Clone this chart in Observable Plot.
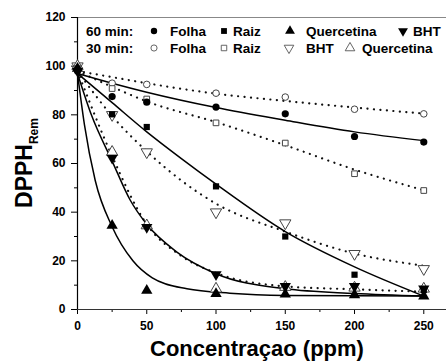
<!DOCTYPE html>
<html><head><meta charset="utf-8">
<script src="https://cdn.jsdelivr.net/npm/d3@7"></script>
<script src="https://cdn.jsdelivr.net/npm/@observablehq/plot@0.6"></script>
<style>
body{margin:0;background:#fff;font-family:"Liberation Sans",Arial,sans-serif;}
#wrap{width:446px;height:362px;overflow:hidden;}
</style></head><body><div id="wrap"></div>
<script>
// measured concentrations (ppm)
const conc = [0, 25, 50, 100, 150, 200, 250];
// DPPH remaining (%) — markers
const folha60 = [98, 87.5, 85.2, 83.2, 80.4, 71.1, 68.8];
const folha30 = [100, 93, 92.5, 88.9, 87.3, 82.3, 80.4];
const raiz60  = [99, 80.2, 75, 50.6, 30, 14.3, 8];
const raiz30  = [100, 90.8, 86.5, 76.7, 68.4, 55.8, 48.9];
const querc60 = [99, 34.5, 7.8, 6.5, 6.3, 6, 5.5];
const bht60   = [98, 62.3, 33.8, 14.4, 9.5, 9.5, 8.5];
const bht30   = [100, 80, 64.7, 40, 35.5, 22.9, 16.7];
const querc30 = [100, 64.7, 34.5, 8.5, 9.2, 8.9, 8.5];

// fitted curves
const folha60CurveX = [0, 25, 50, 100, 150, 200, 250];
const folha60CurveY = [97, 93, 89.3, 83, 77.8, 73, 69.4];
const folha30CurveX = [0, 25, 50, 100, 150, 200, 250];
const folha30CurveY = [98, 95.5, 93, 88.7, 85.7, 83, 80.5];
const raiz60CurveX = [0, 25, 50, 75, 100, 150, 200, 250];
const raiz60CurveY = [97, 85, 73, 62, 51.5, 32, 17.5, 5.5];
const raiz30CurveX = [0, 25, 50, 100, 150, 200, 250];
const raiz30CurveY = [98, 91.5, 85.5, 77, 67.5, 57.5, 49];
const bht30CurveX = [0, 25, 50, 75, 100, 150, 200, 250];
const bht30CurveY = [98, 79.5, 65, 53, 43.5, 32, 23, 18];
const bht60CurveX = [0, 10, 25, 38, 50, 72, 100, 150, 200, 250];
const bht60CurveY = [97, 80, 61, 45, 35, 23.5, 14.7, 8.5, 6.6, 5.5];
const querc30CurveX = [0, 25, 50, 75, 100, 150, 200, 250];
const querc30CurveY = [98, 63, 35, 22, 15, 9.5, 8.3, 7.3];
const querc60CurveX = [0, 5, 12.8, 25, 40, 54, 79, 110, 150, 250];
const querc60CurveY = [97, 76, 53, 34, 20, 13, 8.5, 6.7, 5.8, 5.5];

const yMajor = [0, 20, 40, 60, 80, 100, 120];
const yMinor = [10, 30, 50, 70, 90, 110];
const xMajor = [0, 50, 100, 150, 200, 250];
const xMinor = [25, 75, 125, 175, 225];

const sqrt3 = Math.sqrt(3);
const triangleDown = {
  draw(ctx, size) {
    const y = -Math.sqrt(size / (sqrt3 * 3));
    ctx.moveTo(0, -y * 2);
    ctx.lineTo(-sqrt3 * y, y);
    ctx.lineTo(sqrt3 * y, y);
    ctx.closePath();
  }
};

const pts = (ys) => conc.map((x, i) => ({x, y: ys[i]}));
const crv = (xs, ys) => xs.map((x, i) => ({x, y: ys[i]}));

const solid = {stroke: "#000", strokeWidth: 1.5, curve: "monotone-x"};
const dotted = {stroke: "#111", strokeWidth: 2.2, strokeDasharray: "0.1 6.4", strokeLinecap: "round", curve: "monotone-x"};
const openM = {fill: "#fff", stroke: "#444", strokeWidth: 1};
const fillM = {fill: "#000", stroke: "none"};

const chart = Plot.plot({
  width: 446, height: 362,
  marginLeft: 77, marginRight: 0, marginTop: 17, marginBottom: 53,
  x: {domain: [0, 266.4]},
  y: {domain: [0, 120]},
  style: {fontFamily: '"Liberation Sans", Arial, sans-serif', fontSize: "12px", fontWeight: "bold", color: "#000", background: "#fff"},
  marks: [
    Plot.ruleY([120], {stroke: "#888", strokeWidth: 1.2}),
    Plot.axisY({ticks: yMajor, tickSize: 6, tickPadding: 6, label: null, fontSize: 12, fontWeight: "bold", stroke: "#000"}),
    Plot.axisY({ticks: yMinor, tickSize: 3, text: null, label: null, stroke: "#000"}),
    Plot.axisX({ticks: xMajor, tickSize: 5, tickPadding: 7, label: null, fontSize: 12, fontWeight: "bold", stroke: "#000"}),
    Plot.axisX({ticks: xMinor, tickSize: 3, text: null, label: null, stroke: "#000"}),
    Plot.ruleY([0], {stroke: "#333", strokeWidth: 1.2}),
    Plot.ruleX([0], {stroke: "#000", strokeWidth: 1.2}),
    // curves
    Plot.line(crv(folha30CurveX, folha30CurveY), {x: "x", y: "y", ...dotted}),
    Plot.line(crv(raiz30CurveX, raiz30CurveY), {x: "x", y: "y", ...dotted}),
    Plot.line(crv(bht30CurveX, bht30CurveY), {x: "x", y: "y", ...dotted}),
    Plot.line(crv(querc30CurveX, querc30CurveY), {x: "x", y: "y", ...dotted}),
    Plot.line(crv(folha60CurveX, folha60CurveY), {x: "x", y: "y", ...solid}),
    Plot.line(crv(raiz60CurveX, raiz60CurveY), {x: "x", y: "y", ...solid}),
    Plot.line(crv(bht60CurveX, bht60CurveY), {x: "x", y: "y", ...solid}),
    Plot.line(crv(querc60CurveX, querc60CurveY), {x: "x", y: "y", ...solid}),
    // markers
    Plot.dot(pts(folha30), {x: "x", y: "y", symbol: "circle", r: 3.3, ...openM}),
    Plot.dot(pts(raiz30), {x: "x", y: "y", symbol: "square", r: 3.2, ...openM}),
    Plot.dot(pts(bht30), {x: "x", y: "y", symbol: triangleDown, r: 4.2, ...openM}),
    Plot.dot(pts(querc30), {x: "x", y: "y", symbol: "triangle", r: 4.2, ...openM}),
    Plot.dot(pts(folha60), {x: "x", y: "y", symbol: "circle", r: 3.6, ...fillM}),
    Plot.dot(pts(raiz60), {x: "x", y: "y", symbol: "square", r: 3.5, ...fillM}),
    Plot.dot(pts(querc60), {x: "x", y: "y", symbol: "triangle", r: 4.2, ...fillM}),
    Plot.dot(pts(bht60), {x: "x", y: "y", symbol: triangleDown, r: 4.2, ...fillM})
  ]
});
document.getElementById("wrap").appendChild(chart);

const svg = d3.select(chart);
const ff = '"Liberation Sans", Arial, sans-serif';

// axis titles
svg.append("text")
  .attr("x", 257).attr("y", 356)
  .attr("text-anchor", "middle")
  .attr("font-family", ff).attr("font-weight", "bold").attr("font-size", 22)
  .attr("fill", "#000")
  .text("Concentraçao (ppm)");

const yl = svg.append("text")
  .attr("transform", "translate(32,163) rotate(-90)")
  .attr("text-anchor", "middle")
  .attr("font-family", ff).attr("font-weight", "bold").attr("font-size", 23)
  .attr("fill", "#000");
yl.append("tspan").text("DPPH");
yl.append("tspan").attr("dy", 6).attr("font-size", 12).text("Rem");

// legend
const legendRows = [
  {y: 31, label: "60 min:", items: [
    {sym: d3.symbolCircle, cx: 154, size: 32, open: false, text: "Folha", tx: 170},
    {sym: d3.symbolSquare, cx: 224, size: 34, open: false, text: "Raiz", tx: 233},
    {sym: d3.symbolTriangle, cx: 290, size: 42, open: false, text: "Quercetina", tx: 306},
    {sym: triangleDown, cx: 403, size: 42, open: false, text: "BHT", tx: 413}
  ]},
  {y: 48, label: "30 min:", items: [
    {sym: d3.symbolCircle, cx: 154, size: 30, open: true, text: "Folha", tx: 170},
    {sym: d3.symbolSquare, cx: 224, size: 30, open: true, text: "Raiz", tx: 233},
    {sym: triangleDown, cx: 289, size: 40, open: true, text: "BHT", tx: 306},
    {sym: d3.symbolTriangle, cx: 350, size: 40, open: true, text: "Quercetina", tx: 362}
  ]}
];
const lg = svg.append("g").attr("text-anchor", "start");
for (const row of legendRows) {
  lg.append("text").attr("x", 86).attr("y", row.y).attr("dy", "0.36em")
    .attr("text-anchor", "start")
    .attr("font-family", ff).attr("font-weight", "bold").attr("font-size", 13.5).attr("fill", "#000")
    .text(row.label);
  for (const it of row.items) {
    lg.append("path").attr("d", d3.symbol(it.sym, it.size)())
      .attr("transform", `translate(${it.cx},${row.y})`)
      .attr("fill", it.open ? "#fff" : "#000")
      .attr("stroke", it.open ? "#555" : "none").attr("stroke-width", 0.9);
    lg.append("text").attr("x", it.tx).attr("y", row.y).attr("dy", "0.36em")
      .attr("text-anchor", "start")
      .attr("font-family", ff).attr("font-weight", "bold").attr("font-size", 13.5).attr("fill", "#000")
      .text(it.text);
  }
}
</script></body></html>
